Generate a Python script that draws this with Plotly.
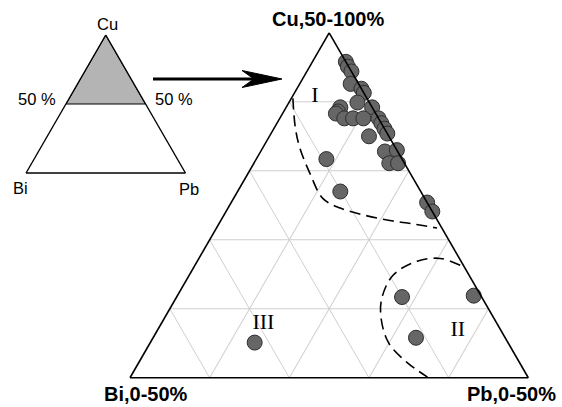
import plotly.graph_objects as go

W, H = 562, 407

# ---- data (Cu 50-100 %, Bi 0-50 %, Pb 0-50 %) ----
cu = [95.8, 95.1, 94.4, 92.6, 91.9, 91.3, 89.9, 89.2, 89.2, 88.6, 88.3, 87.6, 87.6,
      87.6, 87.6, 86.9, 86.1, 85.4, 85.0, 82.8, 83.0, 81.1, 81.1, 75.4, 74.1, 81.7,
      77.0, 61.7, 61.9, 55.8, 55.1]
bi = [0.0, 0.1, 0.0, 1.0, 0.0, 0.0, 1.5, 0.0, 4.0, 4.6, 5.0, 4.3, 3.2,
      1.9, 0.0, 0.0, 0.0, 0.0, 2.5, 1.6, 0.0, 1.9, 0.8, 0.0, 0.0, 9.5,
      10.1, 10.0, 0.9, 11.2, 31.8]
pb = [4.2, 4.8, 5.6, 6.4, 8.1, 8.7, 8.6, 10.8, 6.8, 6.8, 6.7, 8.1, 9.2,
      10.5, 12.4, 13.1, 13.9, 14.6, 12.5, 15.6, 17.0, 17.0, 18.1, 24.6, 25.9, 8.8,
      12.9, 28.3, 37.2, 33.0, 13.1]

# field boundary I
b1_cu = [90.5, 86.3, 83.4, 79.6, 76.0, 74.6, 73.6, 72.8, 72.3, 71.7]
b1_bi = [9.3, 11.1, 12.0, 12.6, 12.8, 11.3, 8.9, 6.0, 3.3, 0.6]
b1_pb = [0.2, 2.6, 4.6, 7.8, 11.2, 14.1, 17.5, 21.2, 24.4, 27.7]
# field boundary II
b2_cu = [66.3, 67.3, 66.9, 64.9, 61.7, 58.8, 55.1, 52.2, 50.1]
b2_bi = [0.4, 2.4, 5.5, 9.5, 12.5, 14.1, 15.0, 14.1, 12.6]
b2_pb = [33.3, 30.3, 27.6, 25.6, 25.8, 27.1, 29.9, 33.7, 37.3]

# field labels
field_names = ["I", "II", "III"]
field_cu = [90.75, 56.9, 57.9]
field_bi = [6.4, 5.4, 29.3]
field_pb = [2.85, 37.7, 12.8]

# inset: shaded Cu > 50 % part
inset_cu = [100, 50, 50, 100]
inset_bi = [0, 50, 0, 0]
inset_pb = [0, 0, 50, 0]

axis_titles = ["Cu,50-100%", "Bi,0-50%", "Pb,0-50%"]
inset_titles = ["Cu", "Bi", "Pb", "50 %", "50 %"]

SANS = "Liberation Sans, Arial, sans-serif"
SERIF = "Liberation Serif, Times New Roman, serif"


def fx(x):
    return x / W


def fy(y):
    return 1 - y / H


fig = go.Figure()

# boundaries
for a, b, c in [(b1_cu, b1_bi, b1_pb), (b2_cu, b2_bi, b2_pb)]:
    fig.add_trace(go.Scatterternary(
        a=a, b=b, c=c, mode="lines", subplot="ternary",
        line=dict(color="black", width=1.6, dash="11px,6px", shape="spline", smoothing=1),
        cliponaxis=False, hoverinfo="skip", showlegend=False))

# samples
fig.add_trace(go.Scatterternary(
    a=cu, b=bi, c=pb, mode="markers", subplot="ternary",
    marker=dict(size=15, color="#666666", line=dict(color="#2e2e2e", width=1)),
    cliponaxis=False, showlegend=False))

# field labels
fig.add_trace(go.Scatterternary(
    a=field_cu, b=field_bi, c=field_pb, mode="text", subplot="ternary",
    text=field_names, textposition="middle center",
    textfont=dict(family=SERIF, size=22, color="black"),
    cliponaxis=False, hoverinfo="skip", showlegend=False))

# inset shaded area
fig.add_trace(go.Scatterternary(
    a=inset_cu, b=inset_bi, c=inset_pb, mode="lines", subplot="ternary2",
    fill="toself", fillcolor="#b4b4b4",
    line=dict(color="black", width=1.2),
    cliponaxis=False, hoverinfo="skip", showlegend=False))

main_axis = dict(showticklabels=False, ticks="", showgrid=True,
                 gridcolor="#cfcfcf", gridwidth=0.8, linecolor="black",
                 linewidth=1.6, dtick=10, tick0=0, title=dict(text=""))
inset_axis = dict(showticklabels=False, ticks="", showgrid=False,
                  linecolor="black", linewidth=1.4, title=dict(text=""))

fig.update_layout(
    width=W, height=H,
    margin=dict(l=0, r=0, t=0, b=0),
    paper_bgcolor="white",
    font=dict(family=SANS, color="black"),
    ternary=dict(
        sum=100,
        domain=dict(x=[fx(130), fx(528.3)], y=[fy(378.3), fy(32.3)]),
        bgcolor="white",
        aaxis=dict(main_axis, min=50),
        baxis=dict(main_axis, min=0),
        caxis=dict(main_axis, min=0),
    ),
    ternary2=dict(
        sum=100,
        domain=dict(x=[fx(26), fx(185.5)], y=[fy(173), fy(35)]),
        bgcolor="white",
        aaxis=inset_axis, baxis=inset_axis, caxis=inset_axis,
    ),
    hovermode=False,
)

# axis titles of the main diagram
bold = dict(family=SANS, size=20, color="black")
for txt, x, y in zip(axis_titles, [327.5, 146, 511.5], [19, 394, 394]):
    fig.add_annotation(text="<b>%s</b>" % txt, x=fx(x), y=fy(y), xref="paper", yref="paper",
                       showarrow=False, xanchor="center", yanchor="middle", font=bold)

# inset labels
reg = dict(family=SANS, size=16.5, color="black")
for txt, x, y in zip(inset_titles, [107, 20, 189, 37.5, 173.5], [24, 187.5, 189, 98.5, 99]):
    fig.add_annotation(text=txt, x=fx(x), y=fy(y), xref="paper", yref="paper",
                       showarrow=False, xanchor="center", yanchor="middle", font=reg)

# arrow from inset to main diagram
fig.add_shape(type="line", xref="paper", yref="paper",
              x0=fx(153), y0=fy(79), x1=fx(255), y1=fy(79),
              line=dict(color="black", width=3))
fig.add_shape(type="path", xref="paper", yref="paper",
              path="M %f,%f L %f,%f L %f,%f L %f,%f Z" % (
                  fx(242), fy(70.5), fx(282), fy(79), fx(242), fy(87.5), fx(254), fy(79)),
              fillcolor="black", line=dict(color="black", width=1))

fig.write_html("out.html", config={"displayModeBar": False},
               post_script="document.body.style.margin='0';document.body.style.overflow='hidden';")
